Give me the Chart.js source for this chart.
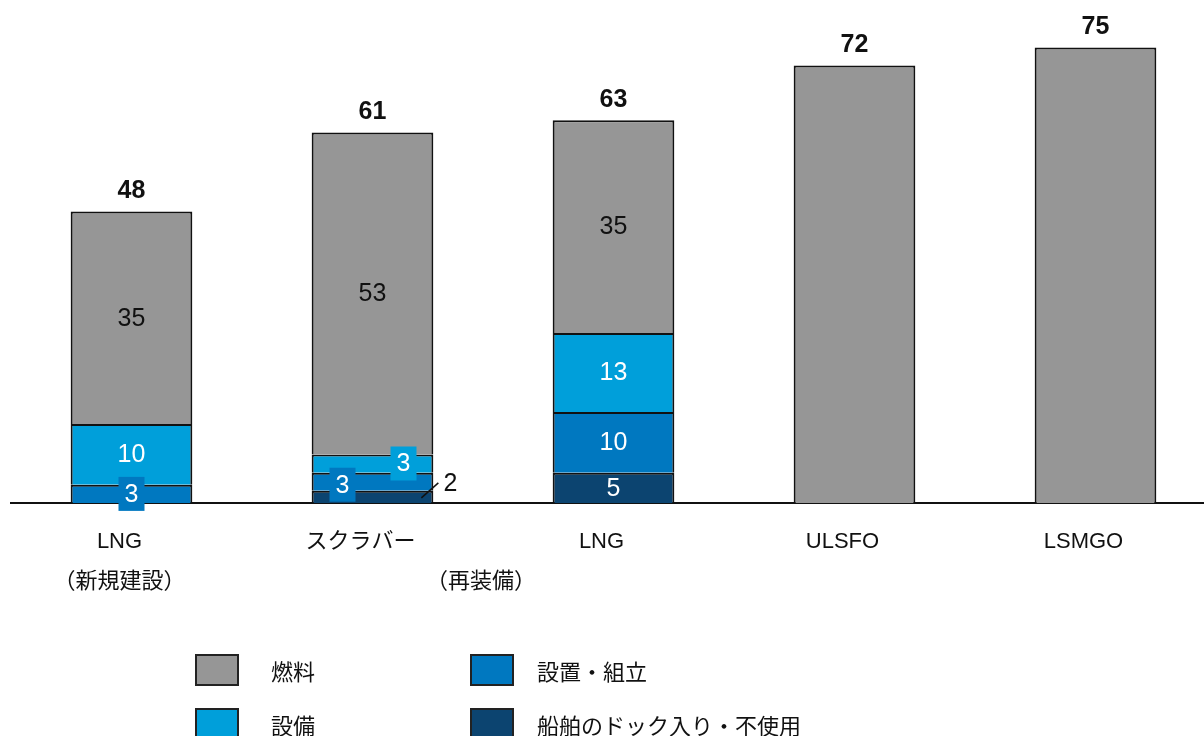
<!DOCTYPE html>
<html lang="ja">
<head>
<meta charset="utf-8">
<script src="https://cdn.jsdelivr.net/npm/chart.js@4"></script>
<style>
  html, body { margin: 0; padding: 0; background: #fff; overflow: hidden; }
  #wrap { position: relative; width: 1230px; height: 736px; }
  #legend { position: absolute; left: 0; top: 0; font-family: 'Noto Sans CJK JP', 'Liberation Sans', sans-serif; font-size: 22px; color: #111; }
  .item { position: absolute; display: flex; align-items: center; height: 32px; white-space: nowrap; }
  .box { flex: none; width: 40px; height: 28px; border: 2px solid #222; margin-right: 32px; }
</style>
</head>
<body>
<div id="wrap">
  <canvas id="chart" width="1230" height="736"></canvas>
  <div id="legend"></div>
</div>
<script>
const categories = [['LNG', '（新規建設）'], 'スクラバー', 'LNG', 'ULSFO', 'LSMGO']
const groupLabel = '（再装備）'

const dockValues = [null, 2, 5, null, null]
const installValues = [3, 3, 10, null, null]
const equipmentValues = [10, 3, 13, null, null]
const fuelValues = [35, 53, 35, 72, 75]
const totals = [48, 61, 63, 72, 75]

const seriesNames = ['船舶のドック入り・不使用', '設置・組立', '設備', '燃料']
const seriesColors = ['#0c4470', '#0078c0', '#009fda', '#969696']
const labelColors = ['#fff', '#fff', '#fff', '#111']

// labels that don't fit inside their segment: [datasetIndex, index] -> tweak
const specialLabels = {
  '1-0': { box: true },
  '1-1': { box: true, dx: -30, dy: 3 },
  '2-1': { box: true, dx: 31, dy: 0 },
  '0-1': { outside: true }
}

const FONT = "'Liberation Sans', 'Noto Sans CJK JP', sans-serif"

const segmentLabels = {
  id: 'segmentLabels',
  afterDatasetsDraw(chart) {
    const ctx = chart.ctx
    ctx.save()
    ctx.textAlign = 'center'
    ctx.textBaseline = 'middle'
    ctx.font = `25px ${FONT}`
    chart.data.datasets.forEach((ds, di) => {
      const meta = chart.getDatasetMeta(di)
      meta.data.forEach((bar, i) => {
        const v = ds.data[i]
        if (v === null || v === totals[i]) return
        const props = bar.getProps(['x', 'y', 'base'], true)
        const key = `${di}-${i}`
        const spec = specialLabels[key]
        let x = props.x
        let y = (props.y + props.base) / 2
        if (spec && spec.outside) {
          const right = props.x + bar.width / 2
          ctx.strokeStyle = '#111'
          ctx.lineWidth = 1.5
          ctx.beginPath()
          ctx.moveTo(right - 12, y + 1)
          ctx.lineTo(right + 5, y - 14)
          ctx.stroke()
          ctx.fillStyle = '#111'
          ctx.fillText(String(v), right + 17, y - 13)
          return
        }
        if (spec) {
          x += spec.dx || 0
          y += spec.dy || 0
        }
        if (spec && spec.box) {
          ctx.fillStyle = seriesColors[di]
          ctx.fillRect(x - 13, y - 17, 26, 34)
        }
        ctx.fillStyle = labelColors[di]
        ctx.fillText(String(v), x, y + 1)
      })
    })
    // totals on top
    const top = chart.getDatasetMeta(chart.data.datasets.length - 1)
    ctx.font = `bold 25px ${FONT}`
    ctx.fillStyle = '#111'
    top.data.forEach((bar, i) => {
      ctx.fillText(String(totals[i]), bar.x, bar.y - 20)
    })
    // group label under scrubber + LNG retrofit
    const xs = chart.scales.x
    ctx.font = `22px 'Noto Sans CJK JP', ${FONT}`
    ctx.fillText(groupLabel, (xs.getPixelForValue(1) + xs.getPixelForValue(2)) / 2 - 12, 580)
    ctx.restore()
  }
}

const datasets = [dockValues, installValues, equipmentValues, fuelValues].map((values, i) => ({
  label: seriesNames[i],
  data: values,
  backgroundColor: seriesColors[i],
  borderColor: '#111',
  borderWidth: 2,
  barPercentage: 0.505,
  categoryPercentage: 1
}))

new Chart(document.getElementById('chart'), {
  type: 'bar',
  data: { labels: categories, datasets: datasets },
  options: {
    responsive: false,
    animation: false,
    layout: { padding: { left: 11, right: 14, top: 17, bottom: 123 } },
    plugins: { legend: { display: false }, tooltip: { enabled: false } },
    scales: {
      x: {
        stacked: true,
        grid: { display: false },
        border: { display: true, color: '#111', width: 2 },
        ticks: {
          color: '#111',
          padding: 11,
          labelOffset: -12,
          maxRotation: 0,
          autoSkip: false,
          font: { family: "'Liberation Sans', 'Noto Sans CJK JP', sans-serif", size: 22, lineHeight: '40px' }
        }
      },
      y: {
        stacked: true,
        display: false,
        min: 0,
        max: 80
      }
    }
  },
  plugins: [segmentLabels]
})

// legend in two columns: fuel/equipment left, install/dock right
const legendOrder = [3, 1, 2, 0]
const legendPos = [[195, 654], [470, 654], [195, 708], [470, 708]]
const legend = document.getElementById('legend')
legendOrder.forEach((si, k) => {
  const item = document.createElement('div')
  item.className = 'item'
  item.style.left = legendPos[k][0] + 'px'
  item.style.top = legendPos[k][1] + 'px'
  const box = document.createElement('span')
  box.className = 'box'
  box.style.background = seriesColors[si]
  if (k % 2 === 1) box.style.marginRight = '23px'
  const text = document.createElement('span')
  text.textContent = seriesNames[si]
  item.appendChild(box)
  item.appendChild(text)
  legend.appendChild(item)
})
</script>
</body>
</html>
